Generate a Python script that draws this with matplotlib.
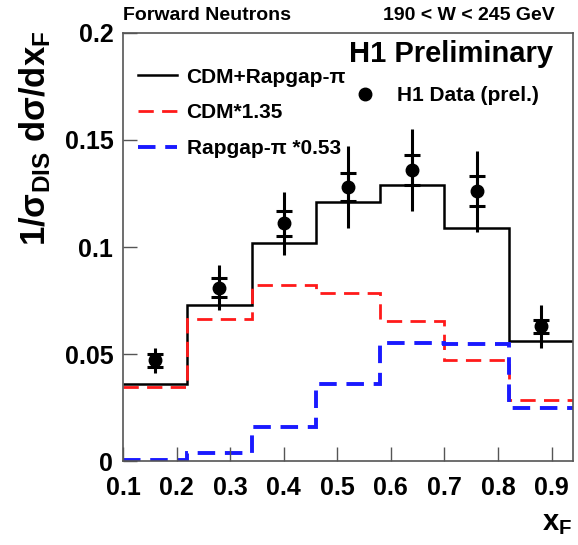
import numpy as np
import matplotlib
matplotlib.use('Agg')
import matplotlib.pyplot as plt
from matplotlib.lines import Line2D

plt.rcParams['font.family'] = ['Liberation Sans', 'DejaVu Sans']
plt.rcParams['font.weight'] = 'bold'
plt.rcParams['mathtext.fontset'] = 'custom'
plt.rcParams['mathtext.rm'] = 'Liberation Sans:bold'
plt.rcParams['mathtext.it'] = 'Liberation Sans:bold'
plt.rcParams['mathtext.bf'] = 'Liberation Sans:bold'

# bin edges in x_F and the model histograms
edges = [0.10, 0.22, 0.34, 0.46, 0.58, 0.70, 0.82, 0.94]
cdm_rapgap = [0.036, 0.073, 0.102, 0.121, 0.129, 0.109, 0.056]
cdm_scaled = [0.0346, 0.0664, 0.0822, 0.0785, 0.0654, 0.0472, 0.0285]
rapgap_scaled = [0.0005, 0.0037, 0.0159, 0.036, 0.055, 0.0546, 0.0248]

# H1 data points
x_data = [0.16, 0.28, 0.40, 0.52, 0.64, 0.76, 0.88]
y_data = [0.047, 0.081, 0.111, 0.128, 0.136, 0.126, 0.063]
err_stat = [0.003, 0.0045, 0.006, 0.0065, 0.007, 0.007, 0.003]
err_tot = [0.006, 0.0105, 0.0145, 0.019, 0.019, 0.019, 0.010]

fig = plt.figure(figsize=(5.78, 5.45), dpi=100)
ax = fig.add_axes([0.2128, 0.154, 0.7785, 0.7855])

ax.stairs(cdm_rapgap, edges, baseline=None, color='black', lw=1.8)
ax.stairs(cdm_scaled, edges, baseline=None, color='#ff1a1a', lw=2.0,
          linestyle=(0, (5.5, 3)))
ax.stairs(rapgap_scaled, edges, baseline=None, color='#1a1aff', lw=2.8,
          linestyle=(0, (4.5, 2.5)))

ax.errorbar(x_data, y_data, yerr=err_tot, fmt='none', ecolor='black',
            elinewidth=2.2, capsize=0)
ax.errorbar(x_data, y_data, yerr=err_stat, fmt='o', color='black', ms=9,
            ecolor='black', elinewidth=2.2, capsize=6, capthick=2.2)

ax.set_xlim(0.1, 0.94)
ax.set_ylim(0, 0.2)
ax.set_xticks(np.arange(0.1, 0.91, 0.1))
ax.set_xticklabels(['0.1', '0.2', '0.3', '0.4', '0.5', '0.6', '0.7', '0.8', '0.9'])
ax.set_yticks([0, 0.05, 0.1, 0.15, 0.2])
ax.set_yticklabels(['0', '0.05', '0.1', '0.15', '0.2'])
ax.tick_params(direction='in', length=10, width=1, labelsize=18, pad=7,
               color='#555555')
ax.tick_params(axis='x', pad=11)
for s in ax.spines.values():
    s.set_color('#555555')
    s.set_linewidth(1.2)

# legends
h_lines = [Line2D([], [], color='black', lw=1.8),
           Line2D([], [], color='#ff1a1a', lw=2.0, linestyle=(0, (5.5, 3))),
           Line2D([], [], color='#1a1aff', lw=2.8, linestyle=(0, (4.5, 2.5)))]
leg1 = ax.legend(h_lines, ['CDM+Rapgap-π', 'CDM*1.35', 'Rapgap-π *0.53'],
                 loc='upper left', bbox_to_anchor=(0.0, 0.953), frameon=False,
                 fontsize=15, handlelength=1.9, handletextpad=0.45,
                 labelspacing=0.8, borderaxespad=0.3)
ax.add_artist(leg1)
h_dat = [Line2D([], [], color='black', marker='o', ms=9, linestyle='none')]
ax.legend(h_dat, ['H1 Data (prel.)'], loc='upper left',
          bbox_to_anchor=(0.46, 0.91), frameon=False, fontsize=15,
          handletextpad=0.5, borderaxespad=0.3)

ax.text(0.955, 0.95, 'H1 Preliminary', transform=ax.transAxes, ha='right',
        va='center', fontsize=21, fontweight='bold')

fig.text(0.2128, 0.972, 'Forward Neutrons', ha='left', va='center',
         fontsize=14, fontweight='bold')
fig.text(0.960, 0.972, '190 < W < 245 GeV', ha='right', va='center',
         fontsize=14, fontweight='bold')

fig.text(0.03, 0.945, r'1/σ$_{\mathrm{DIS}}$ dσ/dx$_{\mathrm{F}}$', rotation=90,
         ha='left', va='top', fontsize=25, fontweight='bold')
fig.text(0.99, 0.04, r'x$_{\mathrm{F}}$', ha='right', va='center',
         fontsize=21, fontweight='bold')

fig.savefig('out.png', dpi=100)
